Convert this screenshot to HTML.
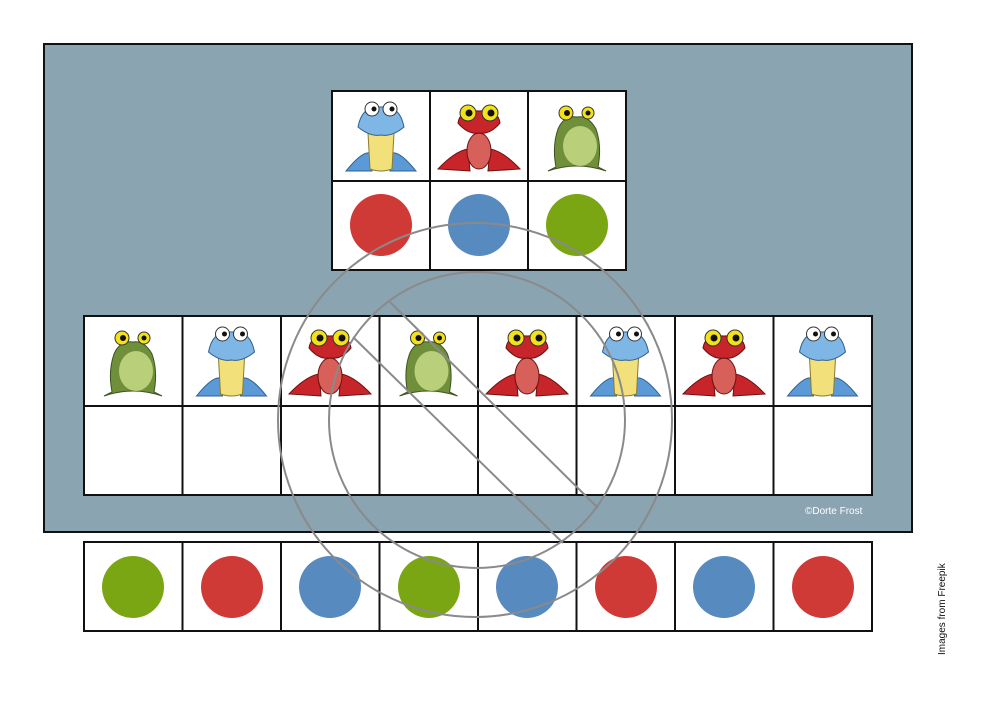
<!DOCTYPE html>
<html><head><meta charset="utf-8"><style>
body{margin:0;background:#fff;width:1000px;height:707px;overflow:hidden;font-family:"Liberation Sans",sans-serif}
</style></head><body>
<svg width="1000" height="707" viewBox="0 0 1000 707" xmlns="http://www.w3.org/2000/svg">
<defs>
<symbol id="fg" viewBox="0 0 98 90">
 <path d="M20 80 Q49 70 78 80 L70 76 Q74 55 68 38 Q60 24 49 26 Q36 24 30 38 Q24 55 28 76 Z" fill="#6f8f3a" stroke="#3d5220" stroke-width="1"/>
 <ellipse cx="52" cy="55" rx="17" ry="20" fill="#b9cf7a"/>
 <circle cx="38" cy="22" r="7" fill="#f3e21a" stroke="#333"/><circle cx="39" cy="22" r="3" fill="#111"/>
 <circle cx="60" cy="22" r="6" fill="#f3e21a" stroke="#333"/><circle cx="60" cy="22" r="2.5" fill="#111"/>
</symbol>
<symbol id="fb" viewBox="0 0 98 90">
 <path d="M14 80 Q30 60 38 62 L40 80 Z M84 80 Q68 60 60 62 L58 80 Z" fill="#5b9ad6" stroke="#2f5f90"/>
 <path d="M36 42 Q49 36 62 42 L60 78 Q49 82 38 78 Z" fill="#f2e07a" stroke="#8a7a30"/>
 <path d="M26 36 Q30 14 49 16 Q68 14 72 36 Q60 46 49 44 Q38 46 26 36 Z" fill="#7eb6e6" stroke="#2f5f90"/>
 <circle cx="40" cy="18" r="7" fill="#fff" stroke="#333"/><circle cx="42" cy="18" r="2.5" fill="#111"/>
 <circle cx="58" cy="18" r="7" fill="#fff" stroke="#333"/><circle cx="60" cy="18" r="2.5" fill="#111"/>
</symbol>
<symbol id="fr" viewBox="0 0 98 90">
 <path d="M8 78 Q25 60 38 58 L40 80 Z M90 78 Q73 60 60 58 L58 80 Z" fill="#c8252a" stroke="#6d1010"/>
 <ellipse cx="49" cy="60" rx="12" ry="18" fill="#d8605a" stroke="#6d1010"/>
 <path d="M28 32 Q30 18 49 20 Q68 18 70 32 Q60 44 49 42 Q38 44 28 32 Z" fill="#c8252a" stroke="#6d1010"/>
 <circle cx="38" cy="22" r="8" fill="#f3e21a" stroke="#333"/><circle cx="39" cy="22" r="3.5" fill="#111"/>
 <circle cx="60" cy="22" r="8" fill="#f3e21a" stroke="#333"/><circle cx="61" cy="22" r="3.5" fill="#111"/>
</symbol>
</defs>
<rect x="44" y="44" width="868" height="488" fill="#8ba4b1" stroke="#111" stroke-width="2"/>
<!-- top grid -->
<rect x="332" y="91" width="294" height="179" fill="#fff" stroke="#111" stroke-width="2"/>
<g stroke="#111" stroke-width="2"><line x1="430" y1="91" x2="430" y2="270"/><line x1="528" y1="91" x2="528" y2="270"/><line x1="332" y1="181" x2="626" y2="181"/></g>
<use href="#fb" x="332" y="91" width="98" height="90"/>
<use href="#fr" x="430" y="91" width="98" height="90"/>
<use href="#fg" x="528" y="91" width="98" height="90"/>
<circle cx="381" cy="225" r="31" fill="#d03a36"/>
<circle cx="479" cy="225" r="31" fill="#578abf"/>
<circle cx="577" cy="225" r="31" fill="#7ba614"/>
<!-- middle grid -->
<rect x="84" y="316" width="788" height="179" fill="#fff" stroke="#111" stroke-width="2"/>
<g stroke="#111" stroke-width="2">
<line x1="182.5" y1="316" x2="182.5" y2="495"/><line x1="281" y1="316" x2="281" y2="495"/><line x1="379.5" y1="316" x2="379.5" y2="495"/><line x1="478" y1="316" x2="478" y2="495"/><line x1="576.5" y1="316" x2="576.5" y2="495"/><line x1="675" y1="316" x2="675" y2="495"/><line x1="773.5" y1="316" x2="773.5" y2="495"/>
<line x1="84" y1="406" x2="872" y2="406"/></g>
<use href="#fg" x="84" y="316" width="98" height="90"/>
<use href="#fb" x="182.5" y="316" width="98" height="90"/>
<use href="#fr" x="281" y="316" width="98" height="90"/>
<use href="#fg" x="379.5" y="316" width="98" height="90"/>
<use href="#fr" x="478" y="316" width="98" height="90"/>
<use href="#fb" x="576.5" y="316" width="98" height="90"/>
<use href="#fr" x="675" y="316" width="98" height="90"/>
<use href="#fb" x="773.5" y="316" width="98" height="90"/>
<text x="805" y="514" font-size="10" fill="#fff">©Dorte Frost</text>
<!-- strip -->
<rect x="84" y="542" width="788" height="89" fill="#fff" stroke="#111" stroke-width="2"/>
<g stroke="#111" stroke-width="2">
<line x1="182.5" y1="542" x2="182.5" y2="631"/><line x1="281" y1="542" x2="281" y2="631"/><line x1="379.5" y1="542" x2="379.5" y2="631"/><line x1="478" y1="542" x2="478" y2="631"/><line x1="576.5" y1="542" x2="576.5" y2="631"/><line x1="675" y1="542" x2="675" y2="631"/><line x1="773.5" y1="542" x2="773.5" y2="631"/></g>
<circle cx="133" cy="587" r="31" fill="#7ba614"/>
<circle cx="232" cy="587" r="31" fill="#d03a36"/>
<circle cx="330" cy="587" r="31" fill="#578abf"/>
<circle cx="429" cy="587" r="31" fill="#7ba614"/>
<circle cx="527" cy="587" r="31" fill="#578abf"/>
<circle cx="626" cy="587" r="31" fill="#d03a36"/>
<circle cx="724" cy="587" r="31" fill="#578abf"/>
<circle cx="823" cy="587" r="31" fill="#d03a36"/>
<text transform="translate(945,655) rotate(-90)" font-size="10" fill="#111">Images from Freepik</text>
<!-- watermark -->
<g fill="none" stroke="#8a8a8a" stroke-width="2">
<circle cx="475" cy="420" r="197"/>
<circle cx="477" cy="420" r="148"/>
<path d="M353 337 L563 543 M390 302 L598 508"/>
</g>
</svg>
</body></html>
